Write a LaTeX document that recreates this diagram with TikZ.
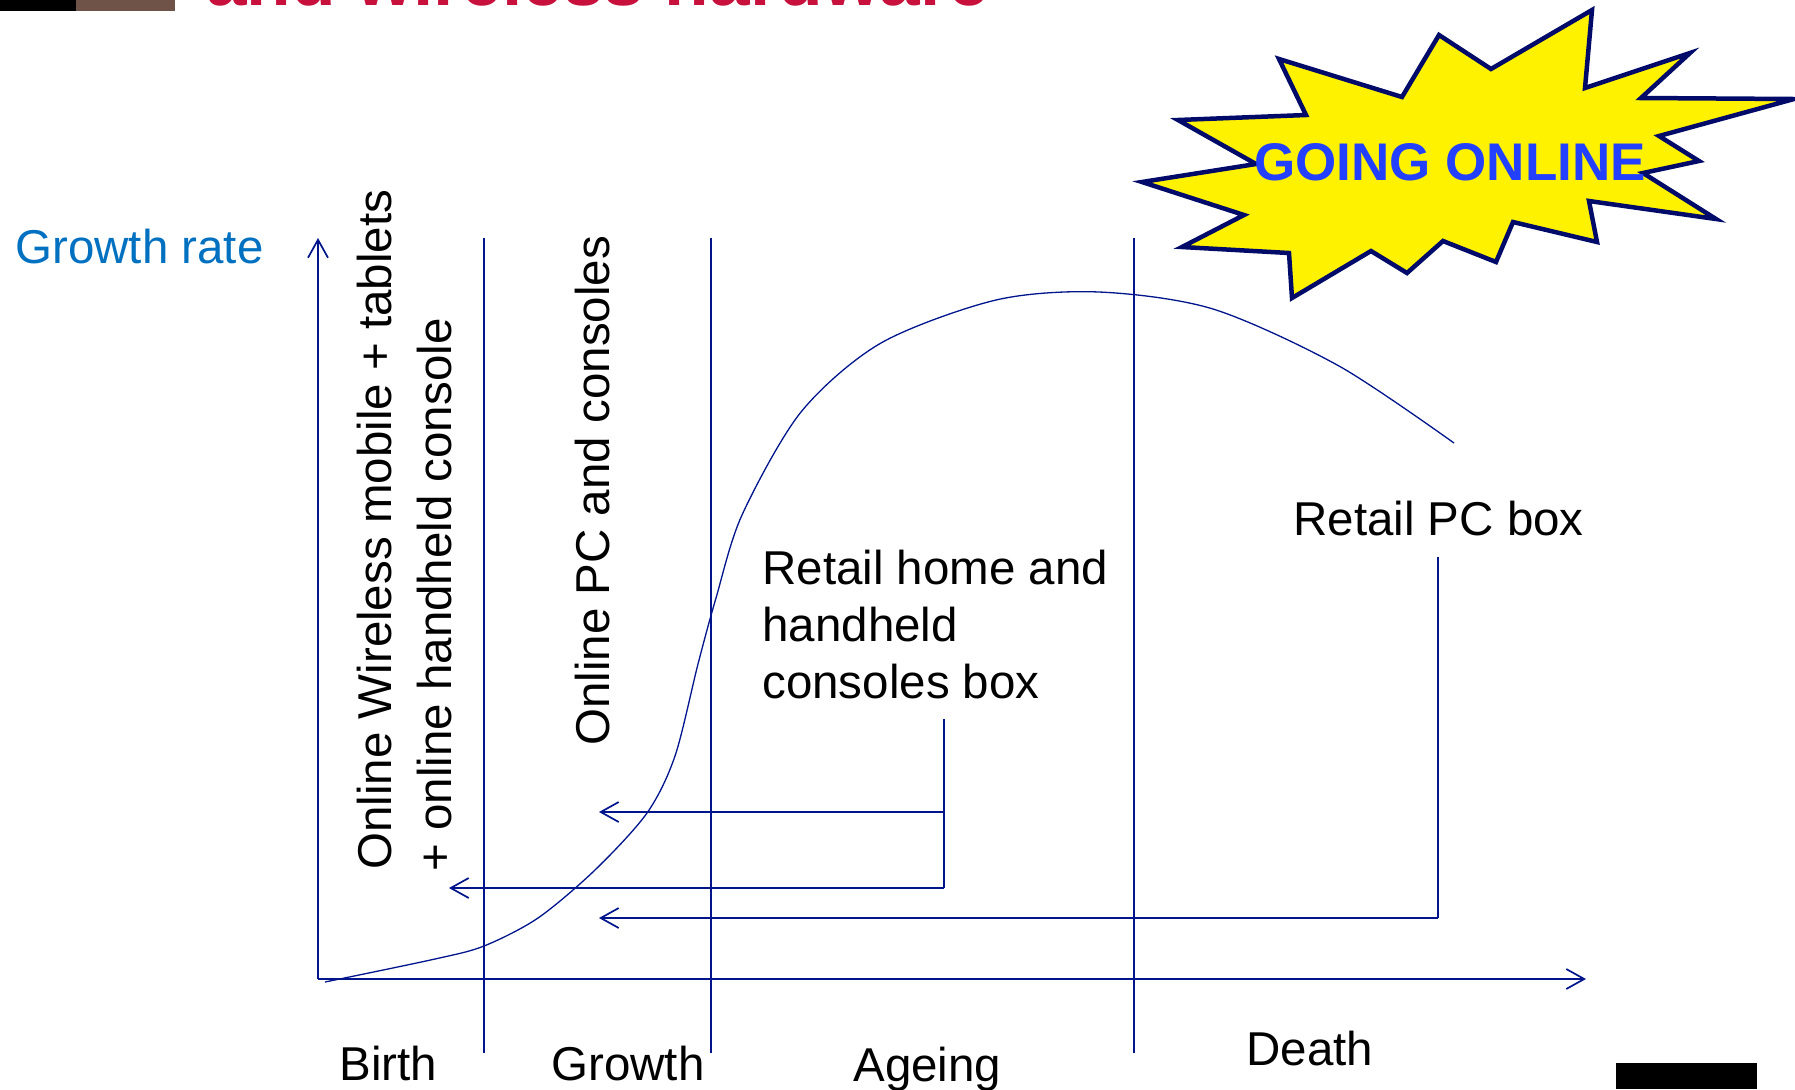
\documentclass[tikz,border=0pt]{standalone}
\usepackage{fontspec}
\setmainfont{Liberation Sans}
\usetikzlibrary{arrows.meta}
\definecolor{navy}{RGB}{0,20,140}
\definecolor{starline}{RGB}{0,10,105}
\definecolor{gblue}{RGB}{0,112,192}
\definecolor{oblue}{RGB}{35,64,255}
\definecolor{titlered}{RGB}{200,16,60}
\definecolor{barbrown}{RGB}{112,83,72}
\begin{document}
\begin{tikzpicture}[x=0.5pt,y=-0.5pt,
  txt/.style={inner sep=0pt, font=\fontsize{23.75}{28.5}\selectfont},
  axis/.style={draw=navy, line width=0.85pt, -{Straight Barb[length=9pt,width=10pt]}},
  phase/.style={draw=navy, line width=0.75pt},
  feed/.style={draw=navy, line width=0.85pt},
  feedarrow/.style={draw=navy, line width=0.85pt, -{Straight Barb[length=9pt,width=10pt]}},
  lifecurve/.style={draw=navy, line width=0.65pt},
  burst/.style={draw=starline, fill=yellow, line width=2.25pt, line join=miter}]
\useasboundingbox (0,0) rectangle (1795,1089);

% top bar and cut title
\fill[black] (0,0) rectangle (76,11);
\fill[barbrown] (76,0) rectangle (175,11);
\node[inner sep=0pt, anchor=base west, text=titlered, font=\fontsize{36.5}{40}\selectfont\bfseries] (title) at (206,5) {and wireless hardware};
\fill[black] (1616,1063) rectangle (1757,1089);

% axes
\coordinate (O) at (318,979);
\coordinate (ytop) at (318,238);
\coordinate (xend) at (1586,979);
\draw[axis] (O) -- (ytop);
\draw[axis] (O) -- (xend);

% phase lines
\foreach \n/\x in {p1/484, p2/711, p3/1134} {
  \coordinate (\n t) at (\x,238);
  \coordinate (\n b) at (\x,1053);
  \draw[phase] (\n t) -- (\n b);
}

% life curve
\draw[lifecurve] plot[smooth, tension=0.5] coordinates {
 (325,982) (435,959) (484,946) (538,918) (595,870) (647,813) (675,756)
 (698,664) (716,598) (742,515) (801,412) (881,343)
 (996,300) (1099,292) (1213,309) (1339,366) (1454,443)};

% labels
\node[txt, anchor=base west, text=gblue] (gr) at (15,263) {Growth rate};
\node[txt, anchor=base west, rotate=90] (wl1) at (391,870) {Online Wireless mobile + tablets};
\node[txt, anchor=base west, rotate=90] (wl2) at (451,872) {+ online handheld console};
\node[txt, anchor=base west, rotate=90] (pc) at (609,746) {Online PC and consoles};
\node[txt, anchor=base west, align=left] (rh) at (762,698) {Retail home and\\handheld\\consoles box};
\node[txt, anchor=base west] (rpc) at (1293,535) {Retail PC box};
\node[txt, anchor=base west] (birth) at (339,1080) {Birth};
\node[txt, anchor=base west] (growth) at (551,1080) {Growth};
\node[txt, anchor=base west] (ageing) at (853,1081) {Ageing};
\node[txt, anchor=base west] (death) at (1246,1065) {Death};

% feed connectors
\coordinate (rhtop) at (944,719);
\coordinate (rhmid) at (944,812);
\coordinate (rhbot) at (944,888);
\coordinate (a1) at (599,812);
\coordinate (a2) at (449,888);
\coordinate (pctop) at (1438,557);
\coordinate (pcbot) at (1438,918);
\coordinate (a3) at (599,918);
\draw[feed] (rhtop) -- (rhbot);
\draw[feedarrow] (rhmid) -- (a1);
\draw[feedarrow] (rhbot) -- (a2);
\draw[feed] (pctop) -- (pcbot);
\draw[feedarrow] (pcbot) -- (a3);

% burst
\draw[burst] (1592,10) -- (1585,88) -- (1690,53) -- (1641,98) -- (1794,99)
 -- (1659,136) -- (1699,161) -- (1643,173) -- (1716,219) -- (1589,201)
 -- (1597,242) -- (1513,222) -- (1496,262) -- (1443,241) -- (1407,273)
 -- (1371,251) -- (1292,298) -- (1289,253) -- (1182,247) -- (1244,215)
 -- (1142,182) -- (1256,164) -- (1178,120) -- (1306,115) -- (1279,59)
 -- (1402,97) -- (1439,35) -- (1491,69) -- cycle;
\node[inner sep=0pt, anchor=base, text=oblue, font=\fontsize{26.5}{30}\selectfont\bfseries] (online) at (1450,180) {GOING ONLINE};
\end{tikzpicture}
\end{document}
